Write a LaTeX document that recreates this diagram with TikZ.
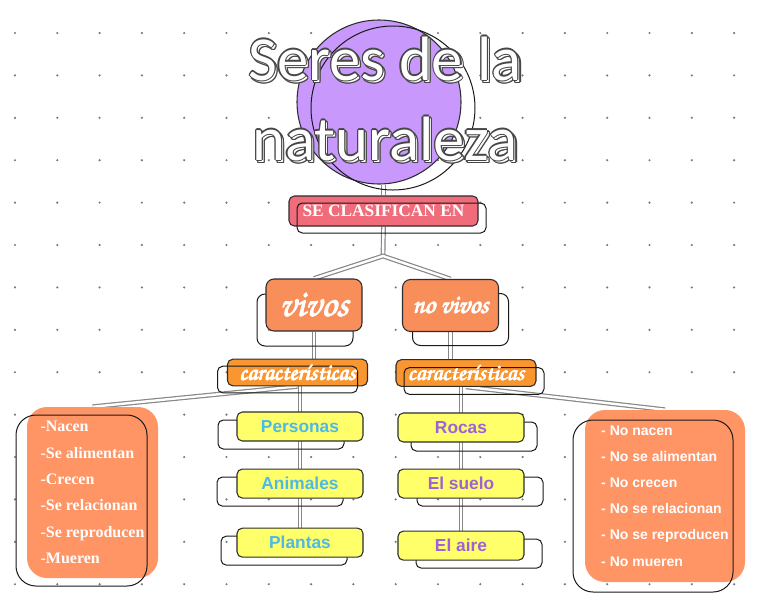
\documentclass[tikz,border=0pt]{standalone}
\usepackage[T1]{fontenc}
\usepackage{fontspec}
\usepackage{tikz}
\usetikzlibrary{positioning}
\pgfdeclarelayer{paper}
\pgfdeclarelayer{wires}
\pgfsetlayers{paper,wires,main}
\newfontfamily\titlefont{Carlito}
\newfontfamily\capsfont{Liberation Serif}
\newfontfamily\boxfont{Liberation Sans}
\newcommand{\handfont}{\fontencoding{T1}\fontfamily{pzc}\fontseries{mb}\fontshape{it}\selectfont}
\definecolor{spherefill}{RGB}{200,152,252}
\definecolor{edgec}{RGB}{45,45,45}
\definecolor{ghostc}{RGB}{25,25,25}
\definecolor{linkc}{RGB}{135,135,135}
\definecolor{dotc}{RGB}{120,120,120}
\definecolor{clasiffill}{RGB}{240,108,122}
\definecolor{kindfill}{RGB}{248,142,90}
\definecolor{featfill}{RGB}{249,150,48}
\definecolor{itemfill}{RGB}{255,255,105}
\definecolor{listfill}{RGB}{255,148,100}
\definecolor{skyc}{RGB}{78,184,232}
\definecolor{violetc}{RGB}{158,98,214}
\definecolor{titleedge}{RGB}{70,70,70}
% outlined title letters: copies round the text, white on top
\newcommand{\ringcopy}[3]{\rlap{\hspace*{#1}\raisebox{#2}{#3}}}
\newcommand{\edgering}[3]{%
  \ringcopy{\dimexpr#1+0.9pt\relax}{#2}{\color{titleedge}#3}%
  \ringcopy{\dimexpr#1-0.9pt\relax}{#2}{\color{titleedge}#3}%
  \ringcopy{#1}{\dimexpr#2+0.9pt\relax}{\color{titleedge}#3}%
  \ringcopy{#1}{\dimexpr#2-0.9pt\relax}{\color{titleedge}#3}%
  \ringcopy{\dimexpr#1+0.65pt\relax}{\dimexpr#2+0.65pt\relax}{\color{titleedge}#3}%
  \ringcopy{\dimexpr#1-0.65pt\relax}{\dimexpr#2+0.65pt\relax}{\color{titleedge}#3}%
  \ringcopy{\dimexpr#1+0.65pt\relax}{\dimexpr#2-0.65pt\relax}{\color{titleedge}#3}%
  \ringcopy{\dimexpr#1-0.65pt\relax}{\dimexpr#2-0.65pt\relax}{\color{titleedge}#3}}
\newcommand{\titleword}[1]{%
  \edgering{1.6pt}{-1.6pt}{#1}\ringcopy{1.6pt}{-1.6pt}{\color{white}#1}%
  \edgering{0pt}{0pt}{#1}{\color{white}#1}}
% heavier script: a few shifted copies
\newcommand{\heavy}[1]{%
  \ringcopy{0.4pt}{0pt}{#1}\ringcopy{0.2pt}{0.3pt}{#1}\ringcopy{0.2pt}{-0.3pt}{#1}%
  \ringcopy{-0.4pt}{0pt}{#1}#1}
\tikzset{
  ghostback/.style 2 args={preaction={draw=ghostc, fill=none, line width=0.75pt,
    transform canvas={shift={(#1,#2)}}}},
  ghostfront/.style 2 args={postaction={draw=ghostc, fill=none, line width=0.75pt,
    transform canvas={shift={(#1,#2)}}}},
  link/.style={draw=linkc, double=white, double distance=1.8pt, line width=0.9pt},
  sphere/.style={circle, fill=spherefill, draw=edgec, line width=0.8pt,
    minimum size=123pt, inner sep=0pt},
  titletext/.style={anchor=base, inner sep=0pt,
    font=\titlefont\fontsize{47}{47}\selectfont},
  clasifbox/.style={rectangle, rounded corners=4pt, fill=clasiffill, draw=edgec,
    line width=0.8pt, minimum width=141.75pt, minimum height=22.5pt, inner sep=0pt,
    text=white, font=\capsfont\bfseries\fontsize{13}{13}\selectfont},
  kindbox/.style={rectangle, rounded corners=6pt, fill=kindfill, draw=edgec,
    line width=0.8pt, minimum width=72pt, minimum height=39pt, inner sep=0pt,
    text=white},
  featbox/.style={rectangle, rounded corners=4pt, fill=featfill, draw=edgec,
    line width=0.8pt, minimum width=105pt, minimum height=20pt, inner sep=0pt,
    text=white, font=\fontsize{17.5}{17.5}\handfont},
  itembox/.style={rectangle, rounded corners=4pt, fill=itemfill, draw=edgec,
    line width=0.8pt, minimum width=94.5pt, minimum height=21.75pt, inner sep=0pt,
    font=\boxfont\bfseries\fontsize{13}{13}\selectfont},
  listbox/.style={rectangle, rounded corners=15pt, fill=listfill, draw=none,
    inner sep=0pt, align=left, text=white}
}
\begin{document}
\begin{tikzpicture}[x=0.75pt, y=-0.75pt]
  \useasboundingbox (0,0) rectangle (768,594);
  % dotted paper
  \begin{pgfonlayer}{paper}
    \foreach \i in {0,...,17}
      \foreach \j in {0,...,13}
        \fill[dotc] (15+42.3*\i, 33+42.4*\j) circle (0.9pt);
  \end{pgfonlayer}

  % title
  \node[sphere, ghostfront={14}{6}] (sphere) at (379,102) {};
  \node[titletext] (title1) at (385,80)  {\titleword{Seres de la}};
  \node[titletext] (title2) at (385,160) {\titleword{naturaleza}};

  % levels
  \node[clasifbox, ghostfront={8}{7}] (clasif) at (383.5,211) {SE CLASIFICAN EN};
  \coordinate (fork) at (383,256);
  \node[kindbox, ghostback={-9}{15}, font=\fontsize{28}{28}\handfont] (vivos) at (314,305) {\heavy{vivos}};
  \node[kindbox, ghostback={10}{14}, font=\fontsize{19.5}{19.5}\handfont] (novivos) at (450.5,305.5) {\heavy{no vivos}};
  \node[featbox, ghostfront={-10}{7}] (carv)  at (297.5,372.5) {\heavy{características}};
  \node[featbox, ghostfront={8}{8}]   (carnv) at (466,373)     {\heavy{características}};

  % examples
  \node[itembox, text=skyc, ghostback={-19}{8}] (personas) at (300,426.5) {Personas};
  \node[itembox, text=skyc, ghostback={-20}{8}, below=20.25pt of personas] (animales) {Animales};
  \node[itembox, text=skyc, ghostback={-16}{8}, below=21.75pt of animales] (plantas) {Plantas};
  \node[itembox, text=violetc, ghostback={13}{9}] (rocas) at (461,427.5) {Rocas};
  \node[itembox, text=violetc, ghostback={19}{8}, below=19.5pt of rocas] (suelo) {El suelo};
  \node[itembox, text=violetc, ghostback={18}{8}, below=24pt of suelo] (aire) {El aire};

  % features
  \node[listbox, minimum width=98.25pt, minimum height=128.25pt, ghostfront={-11}{8},
    font=\capsfont\bfseries\fontsize{12}{19.8}\selectfont] (listv) at (92.5,492.5)
    {-Nacen\\-Se alimentan\\-Crecen\\-Se relacionan\\-Se reproducen\\-Mueren};
  \node[listbox, minimum width=120pt, minimum height=129pt, ghostfront={-12}{10},
    font=\boxfont\bfseries\fontsize{10.5}{19.6}\selectfont] (listnv) at (665,496)
    {- No nacen\\- No se alimentan\\- No crecen\\- No se relacionan\\- No se reproducen\\- No mueren};

  % connectors
  \begin{pgfonlayer}{wires}
    \draw[link] (clasif.north |- sphere.south) -- (clasif.north);
    \draw[link] (clasif.south) -- (fork);
    \draw[link] (vivos.north) -- (fork) -- (novivos.north);
    \draw[link] (vivos.south) -- (vivos.south |- carv.north);
    \draw[link] (novivos.south) -- (novivos.south |- carnv.north);
    \draw[link] (carv.south) -- (listv.north);
    \draw[link] (carv.south -| personas.south) -- (plantas.center);
    \draw[link] (carnv.south) -- (listnv.north);
    \draw[link] (carnv.south -| rocas.south) -- (aire.center);
  \end{pgfonlayer}
\end{tikzpicture}
\end{document}
